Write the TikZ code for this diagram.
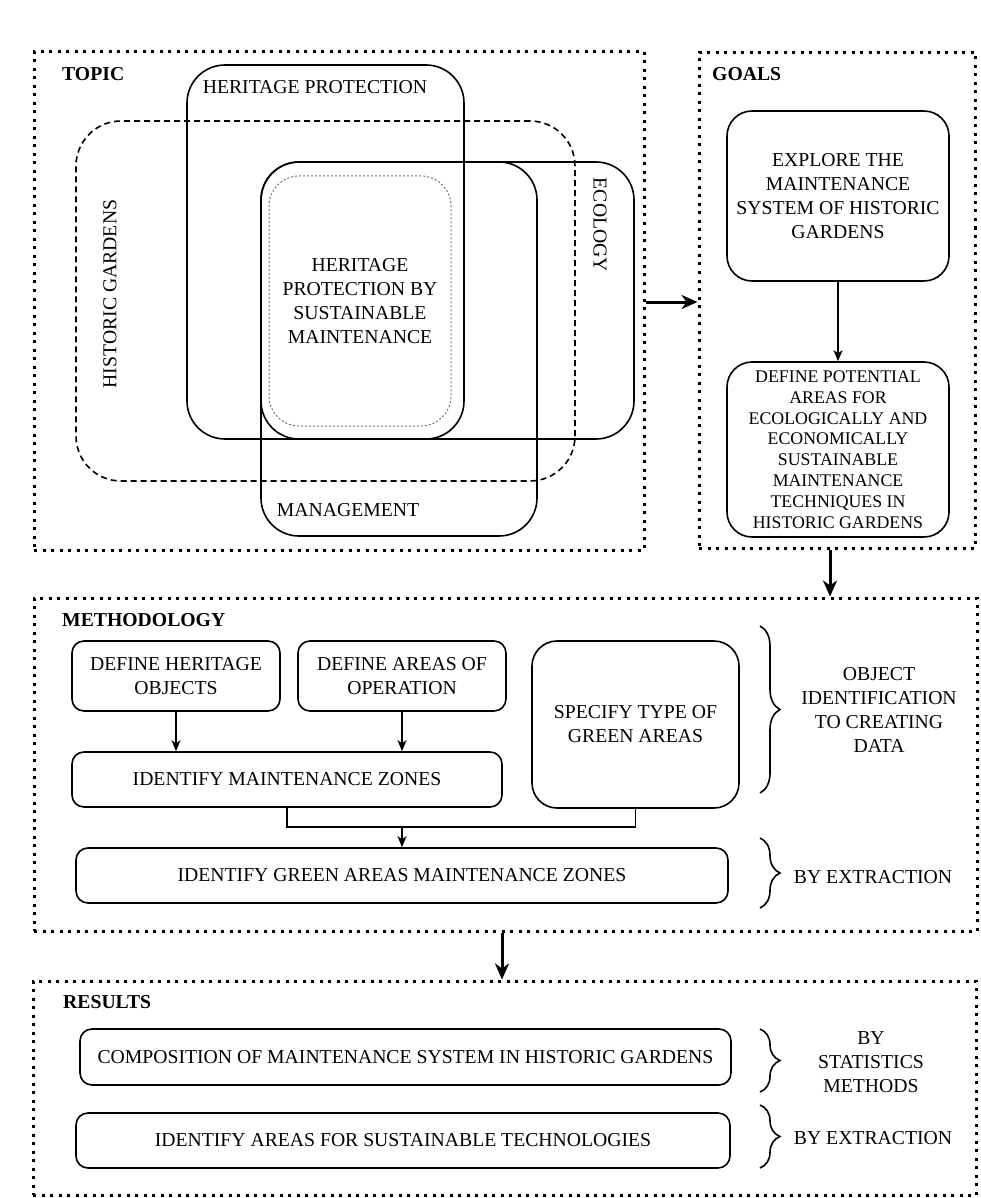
\documentclass[tikz,border=0pt]{standalone}
\usepackage{fontspec}
\setmainfont{Liberation Serif}
\usetikzlibrary{arrows.meta,decorations.pathreplacing,positioning}

\begin{document}
\begin{tikzpicture}[x=1pt,y=-1pt,
    every node/.style={font=\fontsize{19.7}{24}\selectfont, align=center, inner sep=0pt},
    frame/.style={draw, line width=3pt, dash pattern=on 3pt off 5.5pt},
    head/.style={font=\fontsize{19.7}{24}\selectfont\bfseries, anchor=west},
    venn/.style={draw, line width=1.6pt, rounded corners=38pt},
    box/.style={draw, line width=1.6pt, rounded corners=12pt},
    bigbox/.style={box, rounded corners=25pt},
    arr/.style={-{Stealth[length=11pt,width=9pt,inset=3pt]}, line width=1.4pt},
    bigarr/.style={-{Stealth[length=16pt,width=14pt,inset=5pt]}, line width=3pt},
    brc/.style={decorate, decoration={brace, amplitude=20pt}, line width=1.6pt}
]
  \useasboundingbox (0,0) rectangle (980,1198);

  % the four dotted frames
  \node[frame, minimum width=610pt, minimum height=498pt] (topic)   at (339,301)    {};
  \node[frame, minimum width=276pt, minimum height=496pt] (goals)   at (837,300.5)  {};
  \node[frame, minimum width=943pt, minimum height=333pt] (method)  at (505.5,764.5) {};
  \node[frame, minimum width=943pt, minimum height=214pt] (results) at (504.5,1088) {};

  \node[head] (topichead)   at (62,74)     {TOPIC};
  \node[head] (goalshead)   at (712,74)    {GOALS};
  \node[head] (methodhead)  at (62,620.5)  {METHODOLOGY};
  \node[head] (resultshead) at (63,1002)   {RESULTS};

  % topic
  \node[venn, rounded corners=45pt, dash pattern=on 6pt off 4pt,
        minimum width=499pt, minimum height=360pt] (gardens) at (325.5,301) {};
  \node[venn, minimum width=277pt, minimum height=374pt] (heritage) at (325.5,252) {};
  \node[venn, minimum width=373pt, minimum height=277pt] (ecology) at (447.5,300.5) {};
  \node[venn, minimum width=276pt, minimum height=374pt] (management) at (399,349) {};
  \node[draw=black!55, line width=1pt, dash pattern=on 2pt off 2pt, rounded corners=30pt,
        minimum width=182pt, minimum height=250pt] (core) at (360,301)
        {HERITAGE\\PROTECTION BY\\SUSTAINABLE\\MAINTENANCE};

  \node (heritagelabel) at (315,87.5) {HERITAGE PROTECTION};
  \node (managementlabel) at (348,510) {MANAGEMENT};
  \node[rotate=90] (gardenslabel) at (110,294) {HISTORIC GARDENS};
  \node[rotate=-90] (ecologylabel) at (600,225) {ECOLOGY};

  % goals
  \node[bigbox, minimum width=222pt, minimum height=170pt] (explore) at (838,196)
        {EXPLORE THE\\MAINTENANCE\\SYSTEM OF HISTORIC\\GARDENS};
  \node[bigbox, minimum width=222pt, minimum height=175pt,
        font=\fontsize{17.8}{20.8}\selectfont] (potential) at (838,449.5)
        {DEFINE POTENTIAL\\AREAS FOR\\ECOLOGICALLY AND\\ECONOMICALLY\\SUSTAINABLE\\MAINTENANCE\\TECHNIQUES IN\\HISTORIC GARDENS};
  \path[arr] (explore) edge (potential);

  % methodology
  \node[box, minimum width=208pt, minimum height=70pt] (objects) at (176,676)
        {DEFINE HERITAGE\\OBJECTS};
  \node[box, minimum width=208pt, minimum height=70pt] (operation) at (402,676)
        {DEFINE AREAS OF\\OPERATION};
  \node[box, minimum width=430pt, minimum height=55pt] (zones) at (287,779.5)
        {IDENTIFY MAINTENANCE ZONES};
  \node[bigbox, minimum width=207pt, minimum height=167pt] (greentype) at (635.5,724.5)
        {SPECIFY TYPE OF\\GREEN AREAS};
  \node[box, minimum width=652pt, minimum height=55pt] (greenzones) at (402,875.5)
        {IDENTIFY GREEN AREAS MAINTENANCE ZONES};

  \path[arr] (objects.south) edge (objects.south |- zones.north);
  \path[arr] (operation.south) edge (operation.south |- zones.north);
  \coordinate (join) at (0,827);
  \draw[line width=1.4pt] (zones.south) -- (zones.south |- join) -| (greentype.south);
  \path[arr] (greenzones.north |- join) edge (greenzones.north);

  \node (objectid) at (879,710) {OBJECT\\IDENTIFICATION\\TO CREATING\\DATA};
  \node (extraction) at (873,877) {BY EXTRACTION};
  \draw[brc] (760,626) -- (760,793);
  \draw[brc] (760,838) -- (760,908);

  % results
  \node[box, minimum width=651pt, minimum height=56pt] (composition) at (405.5,1057)
        {COMPOSITION OF MAINTENANCE SYSTEM IN HISTORIC GARDENS};
  \node[box, minimum width=654pt, minimum height=55pt] (technologies) at (403,1140.5)
        {IDENTIFY AREAS FOR SUSTAINABLE TECHNOLOGIES};

  \node (statistics) at (871,1062) {BY\\STATISTICS\\METHODS};
  \node (extraction2) at (873,1138) {BY EXTRACTION};
  \draw[brc] (760,1029) -- (760,1092);
  \draw[brc] (760,1105) -- (760,1168);

  % flow between frames
  \coordinate (tg) at (0,302);
  \coordinate (gm) at (830,0);
  \coordinate (mr) at (502,0);
  \path[bigarr] (tg -| topic.east) edge (tg -| goals.west);
  \path[bigarr] (gm |- goals.south) edge (gm |- method.north);
  \path[bigarr] (mr |- method.south) edge (mr |- results.north);
\end{tikzpicture}
\end{document}
